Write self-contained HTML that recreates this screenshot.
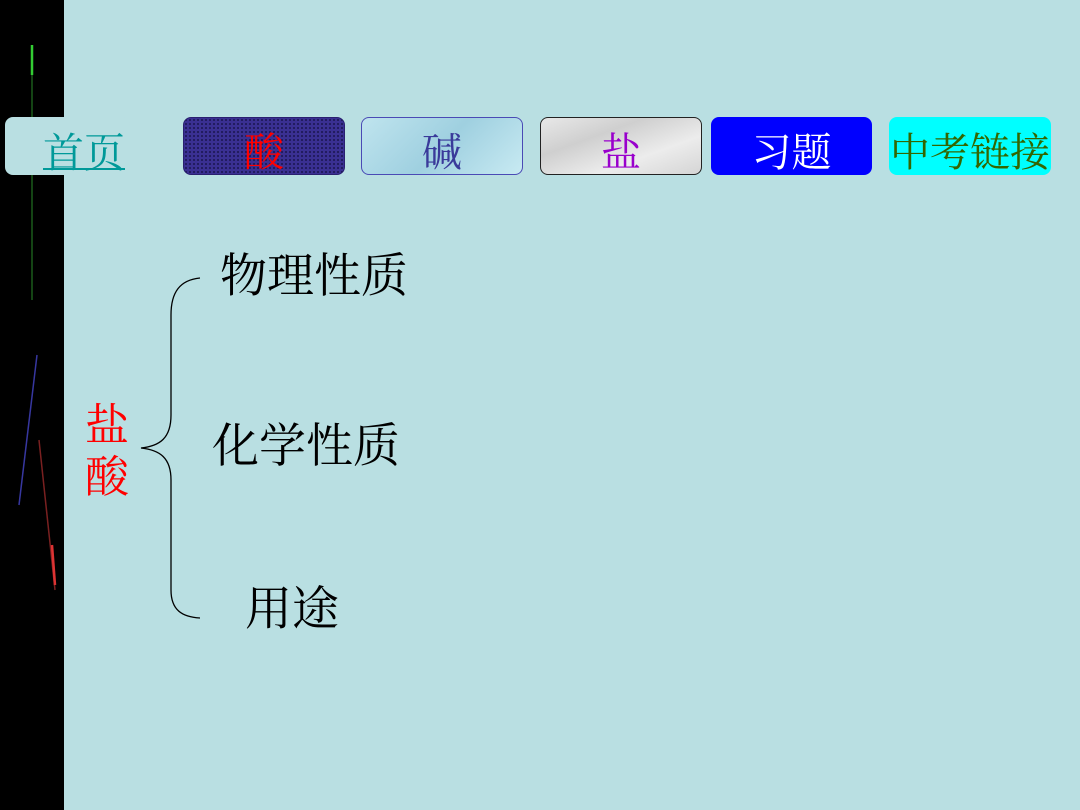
<!DOCTYPE html>
<html><head><meta charset="utf-8"><style>
body{margin:0;width:1080px;height:810px;background:#b9dfe2;position:relative;overflow:hidden;font-family:"Liberation Serif","Noto Serif CJK SC",serif}
.bar{position:absolute;left:0;top:0;width:64px;height:810px;background:#000}
.btn{position:absolute;top:117px;height:58px;border-radius:8px;box-sizing:border-box;display:flex;align-items:center;justify-content:center;font-size:40px;white-space:nowrap;padding-top:6px}
.t{position:absolute;font-size:47px;line-height:1;color:#000;white-space:nowrap}
</style></head><body>
<div class="bar"></div>
<svg style="position:absolute;left:0;top:0" width="70" height="810">
<line x1="32" y1="45" x2="32" y2="300" stroke="#1a5a1a" stroke-width="1.5"/>
<line x1="32" y1="45" x2="32" y2="75" stroke="#3c3" stroke-width="2.5"/>
<line x1="37" y1="355" x2="19" y2="505" stroke="#3737a0" stroke-width="1.5"/>
<line x1="39" y1="440" x2="55" y2="590" stroke="#7a2020" stroke-width="1.5"/>
<line x1="52" y1="545" x2="55" y2="585" stroke="#d33" stroke-width="2.5"/>
</svg>
<div class="btn" style="left:5px;width:125px;background:#b9dfe2;color:#009999;text-decoration:underline;text-decoration-thickness:2px;padding-left:38px;justify-content:flex-start;font-size:41px">首页</div>
<div class="btn" style="left:183px;width:162px;background:#3a3092;background-image:radial-gradient(#1a1650 30%,transparent 32%);background-size:4px 4px;color:#ff0000;border:1px solid #2a2070">酸</div>
<div class="btn" style="left:361px;width:162px;background:linear-gradient(135deg,#bfe4ee,#9fd0e0,#c8eaf2);border:1.5px solid #4a4ab5;color:#3a3a9a">碱</div>
<div class="btn" style="left:540px;width:162px;background:linear-gradient(160deg,#e8e8e8,#cfcfcf,#ececec,#d5d5d5);border:1.5px solid #222;color:#9900cc">盐</div>
<div class="btn" style="left:711px;width:161px;background:#0000ff;color:#fff">习题</div>
<div class="btn" style="left:889px;width:162px;background:#00ffff;color:#336600;font-size:40px">中考链接</div>
<div class="t" style="left:220px;top:254px">物理性质</div>
<div class="t" style="left:212px;top:424px">化学性质</div>
<div class="t" style="left:245px;top:587px">用途</div>
<div class="t" style="left:85px;top:400px;color:#ff0000;font-size:44px;line-height:52px;width:46px;white-space:normal">盐酸</div>
<svg style="position:absolute;left:0;top:0" width="1080" height="810">
<path d="M200,278 C180,280 171,292 171,315 L171,415 C171,438 160,446 141,448 C160,450 171,458 171,480 L171,590 C171,610 182,617 200,618" fill="none" stroke="#000" stroke-width="1.3"/>
</svg>
</body></html>
